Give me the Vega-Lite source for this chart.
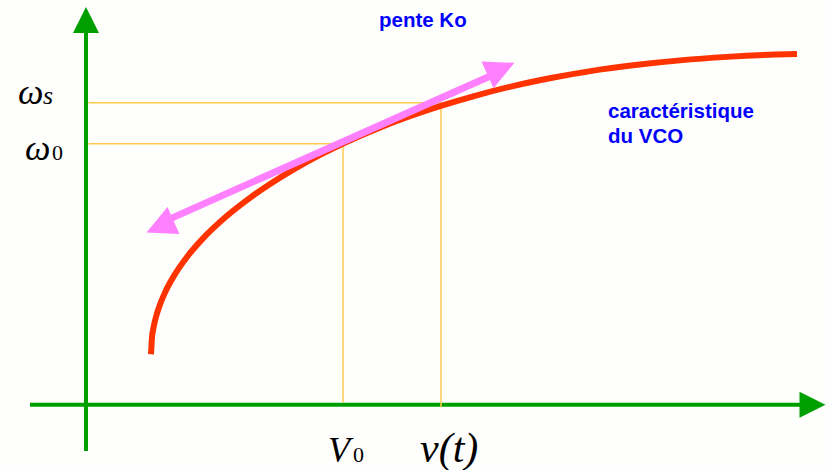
{
  "$schema": "https://vega.github.io/schema/vega-lite/v6.json",
  "width": 830,
  "height": 470,
  "autosize": {"type": "fit", "contains": "padding"},
  "padding": 0,
  "background": "#fefefc",
  "config": {"view": {"stroke": null}},
  "datasets": {
    "axes": [
      {"x": -0.1, "y": -4.6, "x2": -0.1, "y2": 38.0},
      {"x": -5.7, "y": 0.05, "x2": 71.6, "y2": 0.05}
    ],
    "heads": [
      {"dir": "up", "x": -0.1, "y": 38.6},
      {"dir": "right", "x": 72.55, "y": 0.05}
    ],
    "guides": [
      {"x": 0.15, "y": 30.3, "x2": 35.4, "y2": 30.3},
      {"x": 0.15, "y": 26.2, "x2": 25.6, "y2": 26.2},
      {"x": 25.6, "y": 26.2, "x2": 25.6, "y2": 0.3},
      {"x": 35.4, "y": 30.3, "x2": 35.4, "y2": -0.2}
    ],
    "vco": [
      {"x": 6.4, "y": 5.1}, {"x": 6.5, "y": 6.79}, {"x": 6.65, "y": 7.76},
      {"x": 6.9, "y": 8.84}, {"x": 7.3, "y": 10.09}, {"x": 7.9, "y": 11.5},
      {"x": 8.8, "y": 13.13}, {"x": 10.0, "y": 14.85}, {"x": 11.6, "y": 16.71},
      {"x": 13.8, "y": 18.8}, {"x": 16.4, "y": 20.85}, {"x": 18.5, "y": 22.29},
      {"x": 20.8, "y": 23.7}, {"x": 23.3, "y": 25.08}, {"x": 26.0, "y": 26.4},
      {"x": 28.9, "y": 27.66}, {"x": 32.0, "y": 28.85}, {"x": 35.3, "y": 29.96},
      {"x": 38.8, "y": 31.0}, {"x": 42.5, "y": 31.95}, {"x": 46.4, "y": 32.78},
      {"x": 50.5, "y": 33.5}, {"x": 54.8, "y": 34.08}, {"x": 59.3, "y": 34.55},
      {"x": 64.0, "y": 34.9}, {"x": 68.9, "y": 35.14}, {"x": 71.0, "y": 35.2}
    ],
    "tangent": [
      {"x": 8.3, "y": 18.67, "x2": 40.5, "y2": 33.06}
    ],
    "tangentHeads": [
      {"end": "high", "x": 41.4, "y": 33.7},
      {"end": "low", "x": 7.3, "y": 17.9}
    ],
    "labels": [
      {"label": "ω", "x": -6.9, "y": 30.2, "role": "sym"},
      {"label": "s", "x": -4.4, "y": 30.2, "role": "subi"},
      {"label": "ω", "x": -6.2, "y": 24.6, "role": "sym"},
      {"label": "0", "x": -3.5, "y": 24.6, "role": "sub"},
      {"label": "V", "x": 24.1, "y": -5.7, "role": "sym"},
      {"label": "0", "x": 26.6, "y": -5.7, "role": "sub"},
      {"label": "v(t)", "x": 33.3, "y": -5.7, "role": "fn"},
      {"label": "pente Ko", "x": 29.2, "y": 37.9, "role": "note"},
      {"label": "caractéristique", "x": 52.1, "y": 28.8, "role": "note"},
      {"label": "du VCO", "x": 52.1, "y": 26.3, "role": "note"}
    ]
  },
  "encoding": {
    "x": {"field": "x", "type": "quantitative", "scale": {"domain": [-8.7, 74.3], "nice": false, "zero": false}, "axis": null},
    "y": {"field": "y", "type": "quantitative", "scale": {"domain": [-6.4, 40.6], "nice": false, "zero": false}, "axis": null}
  },
  "layer": [
    {
      "data": {"name": "axes"},
      "mark": {"type": "rule", "color": "#009f00", "strokeWidth": 4},
      "encoding": {"x2": {"field": "x2"}, "y2": {"field": "y2"}}
    },
    {
      "data": {"name": "heads"},
      "transform": [{"filter": "datum.dir === 'up'"}],
      "mark": {"type": "point", "shape": "M0,-1L1,1L-1,1Z", "filled": true, "opacity": 1, "size": 676, "color": "#009f00", "strokeWidth": 0}
    },
    {
      "data": {"name": "heads"},
      "transform": [{"filter": "datum.dir === 'right'"}],
      "mark": {"type": "point", "shape": "M1,0L-1,1L-1,-1Z", "filled": true, "opacity": 1, "size": 676, "color": "#009f00", "strokeWidth": 0}
    },
    {
      "data": {"name": "guides"},
      "mark": {"type": "rule", "color": "#ffc94d", "strokeWidth": 1.5},
      "encoding": {"x2": {"field": "x2"}, "y2": {"field": "y2"}}
    },
    {
      "data": {"name": "vco"},
      "mark": {"type": "line", "color": "#ff3300", "strokeWidth": 6, "interpolate": "monotone", "strokeCap": "butt"}
    },
    {
      "data": {"name": "tangent"},
      "mark": {"type": "rule", "color": "#ff80ff", "strokeWidth": 7},
      "encoding": {"x2": {"field": "x2"}, "y2": {"field": "y2"}}
    },
    {
      "data": {"name": "tangentHeads"},
      "transform": [{"filter": "datum.end === 'high'"}],
      "mark": {"type": "point", "shape": "M1,0L-1,1L-1,-1Z", "angle": 336, "filled": true, "opacity": 1, "size": 870, "color": "#ff80ff", "strokeWidth": 0}
    },
    {
      "data": {"name": "tangentHeads"},
      "transform": [{"filter": "datum.end === 'low'"}],
      "mark": {"type": "point", "shape": "M1,0L-1,1L-1,-1Z", "angle": 156, "filled": true, "opacity": 1, "size": 870, "color": "#ff80ff", "strokeWidth": 0}
    },
    {
      "data": {"name": "labels"},
      "transform": [{"filter": "datum.role === 'sym'"}],
      "mark": {"type": "text", "align": "left", "baseline": "alphabetic", "font": "Liberation Serif", "fontStyle": "italic", "fontSize": 36, "color": "#000000"},
      "encoding": {"text": {"field": "label"}}
    },
    {
      "data": {"name": "labels"},
      "transform": [{"filter": "datum.role === 'fn'"}],
      "mark": {"type": "text", "align": "left", "baseline": "alphabetic", "font": "Liberation Serif", "fontStyle": "italic", "fontSize": 42, "color": "#000000"},
      "encoding": {"text": {"field": "label"}}
    },
    {
      "data": {"name": "labels"},
      "transform": [{"filter": "datum.role === 'subi'"}],
      "mark": {"type": "text", "align": "left", "baseline": "alphabetic", "font": "Liberation Serif", "fontStyle": "italic", "fontSize": 26, "color": "#000000"},
      "encoding": {"text": {"field": "label"}}
    },
    {
      "data": {"name": "labels"},
      "transform": [{"filter": "datum.role === 'sub'"}],
      "mark": {"type": "text", "align": "left", "baseline": "alphabetic", "font": "Liberation Serif", "fontSize": 22, "color": "#000000"},
      "encoding": {"text": {"field": "label"}}
    },
    {
      "data": {"name": "labels"},
      "transform": [{"filter": "datum.role === 'note'"}],
      "mark": {"type": "text", "align": "left", "baseline": "alphabetic", "font": "Liberation Sans", "fontWeight": "bold", "fontSize": 20.5, "color": "#0000ff"},
      "encoding": {"text": {"field": "label"}}
    }
  ]
}
